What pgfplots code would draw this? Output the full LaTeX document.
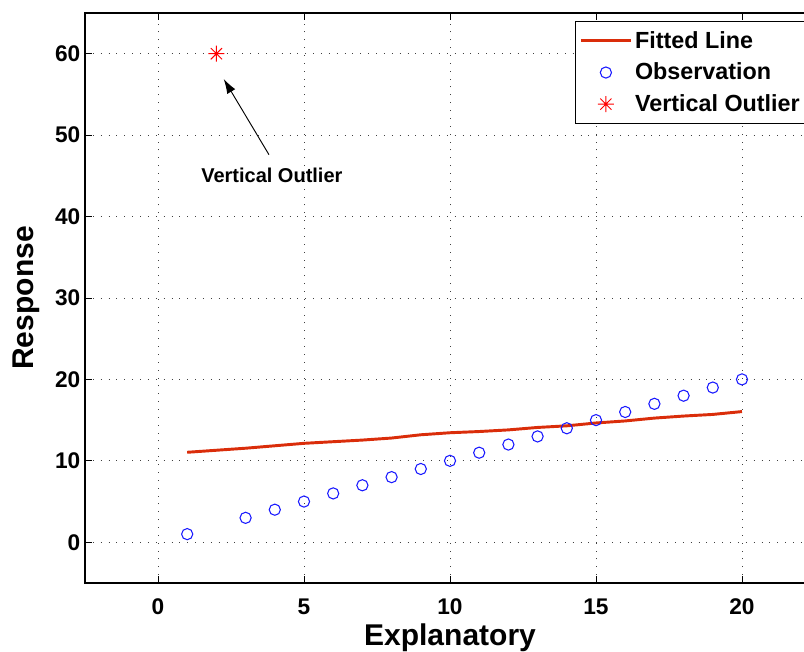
\documentclass[border=0pt]{standalone}
\usepackage{fontspec}
\setmainfont{Liberation Sans}
\usepackage{pgfplots}
\pgfplotsset{compat=1.18}
\usetikzlibrary{arrows.meta}

\definecolor{fitred}{RGB}{218,45,10}
\definecolor{obsblue}{RGB}{25,25,255}
\definecolor{outred}{RGB}{255,0,0}

% eight-armed star: a plus sign overlaid with a cross
\pgfdeclareplotmark{pstar}{%
  \pgfpathmoveto{\pgfqpoint{-\pgfplotmarksize}{0pt}}%
  \pgfpathlineto{\pgfqpoint{\pgfplotmarksize}{0pt}}%
  \pgfpathmoveto{\pgfqpoint{0pt}{-\pgfplotmarksize}}%
  \pgfpathlineto{\pgfqpoint{0pt}{\pgfplotmarksize}}%
  \pgfpathmoveto{\pgfqpoint{-0.7\pgfplotmarksize}{-0.7\pgfplotmarksize}}%
  \pgfpathlineto{\pgfqpoint{0.7\pgfplotmarksize}{0.7\pgfplotmarksize}}%
  \pgfpathmoveto{\pgfqpoint{-0.7\pgfplotmarksize}{0.7\pgfplotmarksize}}%
  \pgfpathlineto{\pgfqpoint{0.7\pgfplotmarksize}{-0.7\pgfplotmarksize}}%
  \pgfusepathqstroke}

\pgfplotstableread{
x  fit
1  11.05
2  11.30
3  11.55
4  11.85
5  12.15
6  12.35
7  12.55
8  12.80
9  13.20
10 13.45
11 13.60
12 13.80
13 14.10
14 14.30
15 14.65
16 14.90
17 15.25
18 15.50
19 15.70
20 16.05
}\fitted

\pgfplotstableread{
x  y
1  1
3  3
4  4
5  5
6  6
7  7
8  8
9  9
10 10
11 11
12 12
13 13
14 14
15 15
16 16
17 17
18 18
19 19
20 20
}\observed

\begin{document}
\begin{tikzpicture}
\begin{axis}[
  scale only axis,
  width=547.5pt, height=427.5pt,
  xmin=-2.5, xmax=22.5, ymin=-5, ymax=65,
  xtick={0,5,...,20}, ytick={0,10,...,60},
  tick align=inside, major tick length=5pt,
  every tick/.style={black, line width=0.7pt},
  axis line style={line width=0.9pt},
  grid=major,
  grid style={black!75, line width=0.7pt, dash pattern=on 0.7pt off 5.2pt},
  /pgf/number format/assume math mode=true,
  ticklabel style={font=\bfseries\fontsize{17}{20}\selectfont},
  xticklabel style={yshift=-8.5pt},
  xlabel={Explanatory}, ylabel={Response},
  label style={font=\bfseries\fontsize{22.5}{27}\selectfont},
  xlabel style={yshift=0pt},
  ylabel style={yshift=5pt},
  legend style={at={(0.989,0.986)}, anchor=north east, draw=black,
    line width=0.8pt, font=\bfseries\fontsize{17.5}{21}\selectfont,
    row sep=5.5pt, cells={anchor=west}, inner ysep=5.5pt},
  legend image code/.code={%
    \draw[mark repeat=2, mark phase=2] plot coordinates {(0cm,0cm) (0.66cm,0cm) (1.32cm,0cm)};},
]
\addplot[fitred, line width=2.2pt] table[x=x, y=fit] {\fitted};
\addlegendentry{Fitted Line}
\addplot[only marks, mark=o, mark size=4.2pt, obsblue, mark options={line width=0.8pt}] table[x=x, y=y] {\observed};
\addlegendentry{Observation}
\addplot[only marks, mark=pstar, mark size=6pt, outred, mark options={line width=0.7pt}] coordinates {(2,60)};
\addlegendentry{Vertical Outlier}

\draw[-{Latex[length=11pt,width=7pt]}, line width=0.7pt] (axis cs:3.8,47.6) -- (axis cs:2.25,56.9);
\node[font=\bfseries\fontsize{15}{18}\selectfont] at (axis cs:3.9,45.0) {Vertical Outlier};
\end{axis}
\pgfresetboundingbox
\path[use as bounding box]
  ([xshift=-63.75pt,yshift=-51.75pt]current axis.south west)
  rectangle ([xshift=539.25pt,yshift=9.75pt]current axis.north west);
\end{tikzpicture}
\end{document}
